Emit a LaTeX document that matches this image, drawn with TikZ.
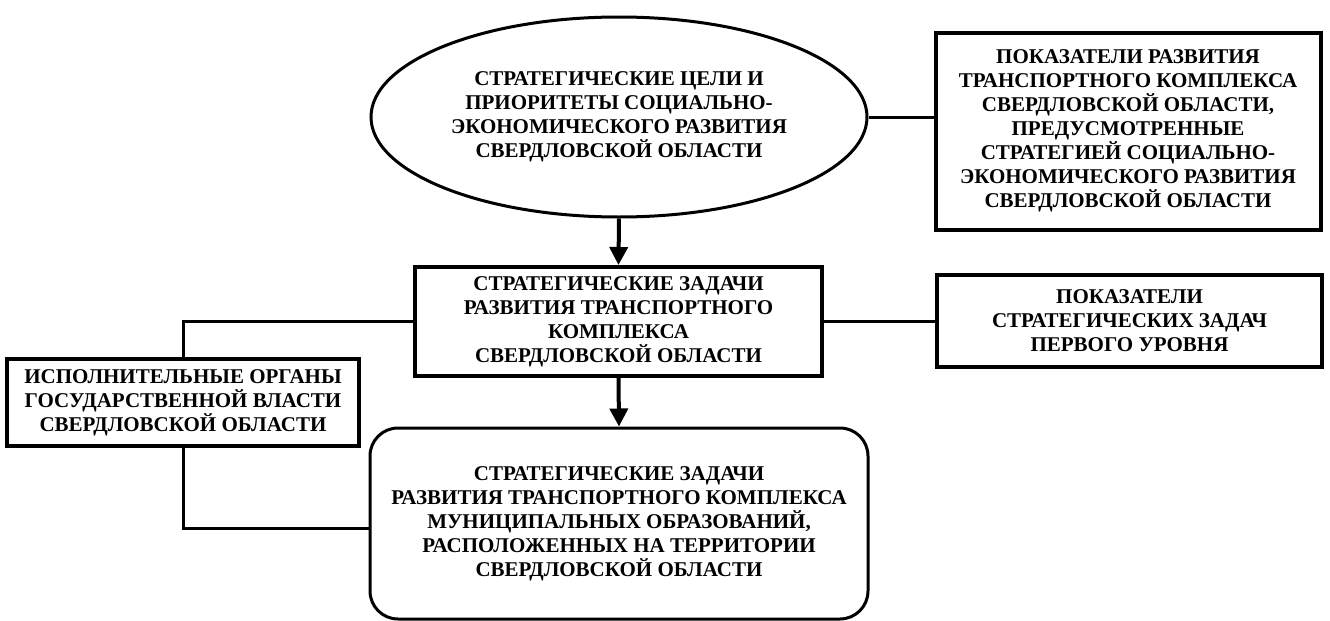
\documentclass[tikz,border=0pt]{standalone}
\usepackage{fontspec}
\setmainfont{Liberation Serif}
\usepackage{tikz}
\usetikzlibrary{positioning,arrows.meta,shapes.geometric}

\begin{document}
\begin{tikzpicture}[x=0.5pt,y=-0.5pt,
    every node/.style={align=center,font=\bfseries\fontsize{10.5}{12}\selectfont},
    blk/.style={draw,line width=2pt,inner sep=0pt},
    link/.style={line width=1.5pt},
    feed/.style={line width=2pt,-{Triangle[length=9pt,width=9pt]}}]
  \useasboundingbox (0,0) rectangle (1330,621);
  \node[draw,ellipse,line width=1.5pt,minimum width=248pt,minimum height=100pt] (goal) at (619,117)
    {СТРАТЕГИЧЕСКИЕ ЦЕЛИ И\\ПРИОРИТЕТЫ СОЦИАЛЬНО-\\ЭКОНОМИЧЕСКОГО РАЗВИТИЯ\\СВЕРДЛОВСКОЙ ОБЛАСТИ};
  \node[blk,minimum width=192.5pt,minimum height=98.5pt] (ind) at (1128,131)
    {ПОКАЗАТЕЛИ РАЗВИТИЯ\\ТРАНСПОРТНОГО КОМПЛЕКСА\\СВЕРДЛОВСКОЙ ОБЛАСТИ,\\ПРЕДУСМОТРЕННЫЕ\\СТРАТЕГИЕЙ СОЦИАЛЬНО-\\ЭКОНОМИЧЕСКОГО РАЗВИТИЯ\\СВЕРДЛОВСКОЙ ОБЛАСТИ};
  \node[blk,minimum width=203.5pt,minimum height=54.5pt] (task) at (618.5,321.5)
    {СТРАТЕГИЧЕСКИЕ ЗАДАЧИ\\РАЗВИТИЯ ТРАНСПОРТНОГО\\КОМПЛЕКСА\\СВЕРДЛОВСКОЙ ОБЛАСТИ};
  \node[blk,minimum width=192.5pt,minimum height=46pt] (taskind) at (1129.5,321)
    {ПОКАЗАТЕЛИ\\СТРАТЕГИЧЕСКИХ ЗАДАЧ\\ПЕРВОГО УРОВНЯ};
  \node[blk,minimum width=176pt,minimum height=43.5pt] (exec) at (183,402.5)
    {ИСПОЛНИТЕЛЬНЫЕ ОРГАНЫ\\ГОСУДАРСТВЕННОЙ ВЛАСТИ\\СВЕРДЛОВСКОЙ ОБЛАСТИ};
  \node[blk,line width=1.5pt,rounded corners=14pt,minimum width=249pt,minimum height=95.5pt] (mun) at (619,523.5)
    {СТРАТЕГИЧЕСКИЕ ЗАДАЧИ\\РАЗВИТИЯ ТРАНСПОРТНОГО КОМПЛЕКСА\\МУНИЦИПАЛЬНЫХ ОБРАЗОВАНИЙ,\\РАСПОЛОЖЕННЫХ НА ТЕРРИТОРИИ\\СВЕРДЛОВСКОЙ ОБЛАСТИ};
  % connectors
  \draw[link] (goal.east) -- (goal.east -| ind.west);
  \draw[feed] (goal.south) -- (task.north);
  \draw[link] (task.east) -- (task.east -| taskind.west);
  \draw[link] (task.west) -| (exec.north);
  \draw[link] (exec.south) |- ([yshift=-2.5pt]mun.west);
  \draw[feed] (task.south) -- (mun.north);
\end{tikzpicture}
\end{document}
